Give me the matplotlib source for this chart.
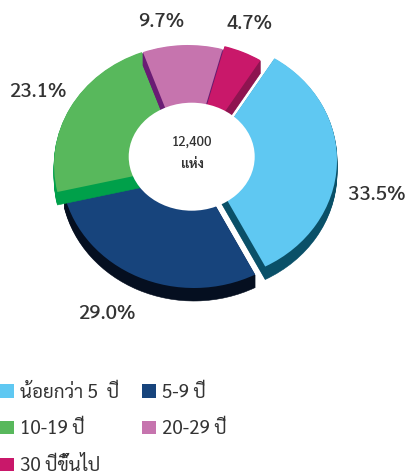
import matplotlib
matplotlib.use('Agg')
import matplotlib.pyplot as plt

# Data
categories = ['น้อยกว่า 5  ปี', '5-9 ปี', '10-19 ปี', '20-29 ปี', '30 ปีขึ้นไป']
shares = [33.5, 29.0, 23.1, 9.7, 4.7]
center_lines = ['12,400', 'แห่ง']

# Style
top_colors = ['#5FC8F2', '#17447C', '#58B85C', '#C674AE', '#C9186A']
wall_colors = ['#0A5068', '#050F20', '#00A04A', '#6A1C74', '#8E1450']
apex_px = [(204, 160), (194, 168), (187, 165), (188, 165), (190, 162)]
draw_rank = [4, 0, 1, 2, 3]
label_px = [(377, 195), (107, 314), (38, 92), (161, 22), (250, 24)]
W, H = 406, 475
RX, RY = 133, 120
X0, Y0 = 190, 163
DEPTH = 13

plt.rcParams['font.family'] = ['Sarabun', 'DejaVu Sans']
fig = plt.figure(figsize=(W / 100, H / 100), dpi=100)
ax = fig.add_axes([0, 0, 1, 1])

dx = lambda px: (px - X0) / RX
dy = lambda py: (Y0 - py) / RY

for depth in range(DEPTH, -1, -1):
    colors = top_colors if depth == 0 else wall_colors
    wedges, _ = ax.pie(shares, colors=colors, startangle=58, counterclock=False,
                       wedgeprops=dict(linewidth=0.4 if depth else 0))
    for w, apex, rank, c in zip(wedges, apex_px, draw_rank, colors):
        w.set_center((dx(apex[0]), dy(apex[1] + depth)))
        w.set_zorder(2 * rank + (1 if depth == 0 else 0) + 1)
        w.set_edgecolor(c)
top_wedges = wedges

ax.set_aspect('auto')
ax.set_xlim(dx(0), dx(W))
ax.set_ylim(dy(H), dy(0))
ax.set_axis_off()

# Centre hole
hole = matplotlib.patches.Ellipse((dx(191.7), dy(156.7)), 126 / RX, 108 / RY,
                                  facecolor='white', edgecolor='none', zorder=20)
ax.add_patch(hole)

ink = '#333333'
ax.text(dx(192), dy(142), center_lines[0], ha='center', va='center', fontsize=9.5,
        fontweight='medium', color=ink, zorder=21)
ax.text(dx(192), dy(165), center_lines[1], ha='center', va='center', fontsize=9.5,
        fontweight='bold', color=ink, zorder=21)

for v, (px, py) in zip(shares, label_px):
    ax.text(dx(px), dy(py), f'{v:.1f}%', ha='center', va='center', fontsize=14.5,
            fontweight='medium', color=ink, zorder=21)

order = [0, 2, 4, 1, 3]
leg = ax.legend([top_wedges[i] for i in order], [categories[i] for i in order],
                ncols=2, loc='lower left', bbox_to_anchor=(0, 0.0),
                bbox_transform=fig.transFigure, frameon=False, fontsize=13.5,
                borderpad=0, borderaxespad=0, handlelength=0.75, handleheight=0.75,
                handletextpad=0.32, columnspacing=1.2, labelspacing=0.96,
                labelcolor=ink)

fig.savefig('out.png', dpi=100, facecolor='white')
